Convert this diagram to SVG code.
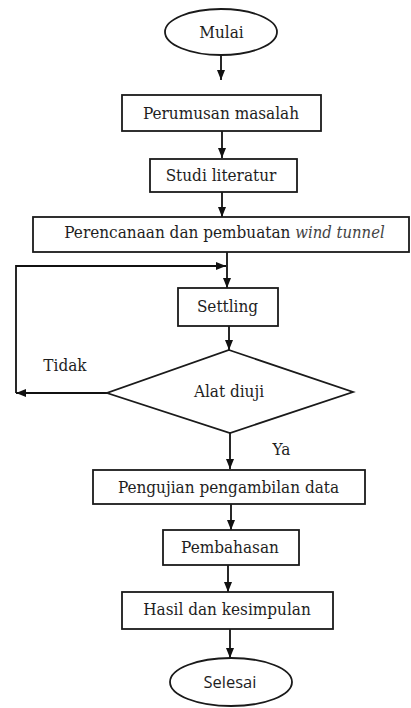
<svg xmlns="http://www.w3.org/2000/svg" width="411" height="708" viewBox="0 0 411 708">
<style>
.sh{fill:#fff;stroke:#1a1a1a;stroke-width:1.8}
.t{font-family:"DejaVu Serif Condensed","DejaVu Serif",serif;font-size:17px;fill:#1e1e1e;text-anchor:middle}
.s{font-family:"Open Sans","Liberation Sans",sans-serif;font-size:16.5px;fill:#1e1e1e;text-anchor:middle}
.c{fill:none;stroke:#111;stroke-width:1.8}
</style>
<defs>
<marker id="ah" markerUnits="userSpaceOnUse" markerWidth="10" markerHeight="10" refX="10" refY="5" orient="auto" viewBox="0 0 10 10">
<path d="M0,1 L10,5 L0,9 z" fill="#111"/>
</marker>
</defs>
<g id="connectors">
<line class="c" x1="221" y1="55" x2="221" y2="80" marker-end="url(#ah)"/>
<line class="c" x1="222" y1="131" x2="222" y2="158" marker-end="url(#ah)"/>
<line class="c" x1="222" y1="192" x2="222" y2="217" marker-end="url(#ah)"/>
<line class="c" x1="227" y1="252" x2="227" y2="288" marker-end="url(#ah)"/>
<path class="c" d="M16,393 V266 H226" marker-end="url(#ah)"/>
<path class="c" d="M107,393 H16" marker-end="url(#ah)"/>
<line class="c" x1="229" y1="326" x2="229" y2="350" marker-end="url(#ah)"/>
<line class="c" x1="230" y1="433" x2="230" y2="469" marker-end="url(#ah)"/>
<line class="c" x1="231" y1="504" x2="231" y2="530" marker-end="url(#ah)"/>
<line class="c" x1="228" y1="565" x2="228" y2="592" marker-end="url(#ah)"/>
<line class="c" x1="230" y1="629" x2="230" y2="658" marker-end="url(#ah)"/>
</g>
<g id="mulai"><ellipse class="sh" cx="221" cy="32" rx="56" ry="23"/><text class="t" x="221.5" y="38">Mulai</text></g>
<g id="perumusan"><rect class="sh" x="122" y="95" width="199" height="36"/><text class="t" x="221" y="119">Perumusan masalah</text></g>
<g id="studi"><rect class="sh" x="150" y="159" width="147" height="33"/><text class="t" x="221" y="181">Studi literatur</text></g>
<g id="perencanaan"><rect class="sh" x="33" y="217" width="376" height="35"/><text class="t" x="224.5" y="238">Perencanaan dan pembuatan <tspan font-style="italic" fill="#444" font-size="16.5">wind tunnel</tspan></text></g>
<g id="settling"><rect class="sh" x="178" y="288" width="100" height="38"/><text class="t" x="227.5" y="312">Settling</text></g>
<g id="alat"><polygon class="sh" points="229,350 353,392 230,433 107,393"/><text class="t" x="229" y="397">Alat diuji</text></g>
<g id="label-tidak"><text class="t" x="65" y="371">Tidak</text></g>
<g id="label-ya"><text class="t" x="281.5" y="455">Ya</text></g>
<g id="pengujian"><rect class="sh" x="93" y="470" width="272" height="34"/><text class="t" x="228.5" y="493">Pengujian pengambilan data</text></g>
<g id="pembahasan"><rect class="sh" x="163" y="530" width="136" height="35"/><text class="t" x="230" y="553">Pembahasan</text></g>
<g id="hasil"><rect class="sh" x="122" y="592" width="211" height="37"/><text class="t" x="227" y="615">Hasil dan kesimpulan</text></g>
<g id="selesai"><ellipse class="sh" cx="231" cy="682" rx="61" ry="24"/><text class="s" x="230" y="688">Selesai</text></g>
</svg>
